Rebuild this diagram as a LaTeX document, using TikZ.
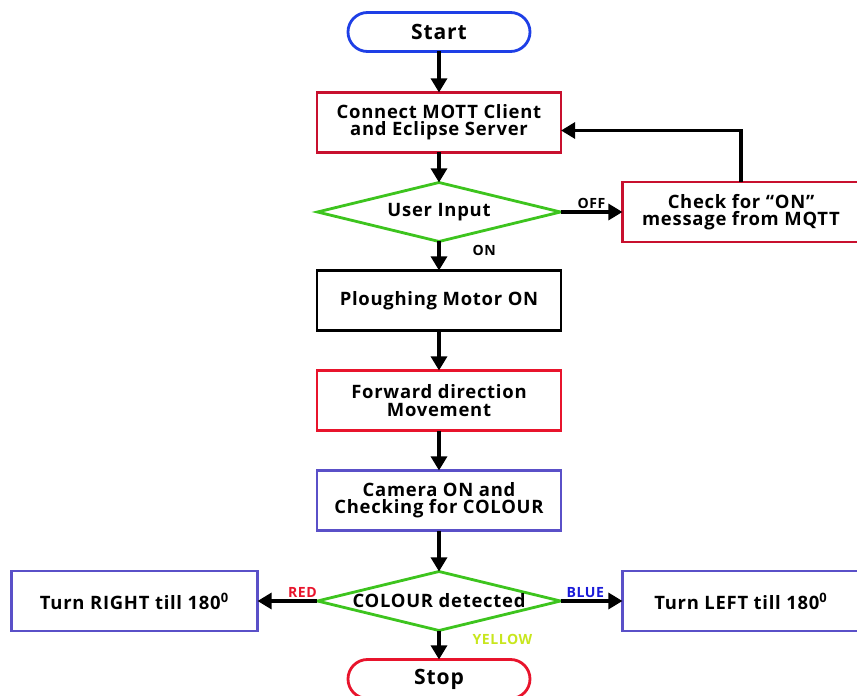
\documentclass[tikz,border=0pt]{standalone}
\usepackage{fontspec}
\setmainfont{Open Sans}[LetterSpace=4]
\usepackage{tikz}
\usetikzlibrary{shapes.geometric, arrows.meta, positioning}
\definecolor{termblue}{HTML}{1E3FE6}
\definecolor{boxred}{HTML}{C8102E}
\definecolor{brightred}{HTML}{E8142C}
\definecolor{boxpurple}{HTML}{5A50C8}
\definecolor{decgreen}{HTML}{3DC41E}
\definecolor{yellowtag}{HTML}{C8E61E}
\definecolor{bluetag}{HTML}{1A1AD8}

\begin{document}
\begin{tikzpicture}[
    font=\fontsize{10.5}{9.8}\selectfont\bfseries,
    every node/.style={outer sep=0pt},
    terminal/.style={rectangle, rounded corners=0.39cm, draw, line width=1.6pt, minimum height=0.78cm, minimum width=3.64cm, align=center, font=\fontsize{12}{12}\selectfont\bfseries},
    block/.style={rectangle, draw, line width=1.6pt, minimum height=1.2cm, minimum width=4.88cm, align=center},
    decision/.style={diamond, draw=decgreen, line width=1.6pt, aspect=4.2, inner sep=0pt, minimum height=1.18cm, minimum width=4.86cm, align=center},
    arrow/.style={-{Triangle[length=8pt, width=9pt]}, line width=2pt, black},
    tag/.style={font=\fontsize{8}{8}\selectfont\bfseries, inner sep=2pt},
]
    \useasboundingbox (0,0) rectangle (17.14,-13.92);

    \node[terminal, draw=termblue] (start) at (8.78,-0.64) {Start};
    \node[block, draw=boxred, below=0.82cm of start] (connect) {Connect MOTT Client\\and Eclipse Server};
    \node[decision, below=0.6cm of connect] (user) {User Input};
    \node[block, draw=boxred, minimum width=4.74cm, right=1.24cm of user] (check) {Check for “ON”\\message from MQTT};
    \node[block, draw=black, below=0.58cm of user] (plough) {Ploughing Motor ON};
    \node[block, draw=brightred, below=0.8cm of plough] (forward) {Forward direction\\Movement};
    \node[block, draw=boxpurple, below=0.8cm of forward] (camera) {Camera ON and\\Checking for COLOUR};
    \node[decision, below=0.82cm of camera] (colour) {COLOUR detected};
    \node[block, draw=boxpurple, minimum width=4.92cm, left=1.2cm of colour] (right) {Turn RIGHT till 180\textsuperscript{0}};
    \node[block, draw=boxpurple, minimum width=4.74cm, right=1.24cm of colour] (left) {Turn LEFT till 180\textsuperscript{0}};
    \node[terminal, draw=brightred, below=0.58cm of colour] (stop) {Stop};

    \draw[arrow] (start) -- (connect);
    \draw[arrow] (connect) -- (user);
    \draw[arrow] (user) -- node[above, tag] {OFF} (check);
    \draw[arrow] (check.north) |- ([yshift=-0.16cm]connect.east);
    \draw[arrow] (user) -- node[pos=0.3, right=0.6cm, tag] {ON} (plough);
    \draw[arrow] (plough) -- (forward);
    \draw[arrow] (forward) -- (camera);
    \draw[arrow] (camera) -- (colour);
    \draw[arrow] (colour) -- node[pos=0.25, above, tag, text=brightred] {RED} (right);
    \draw[arrow] (colour) -- node[pos=0.4, above, tag, text=bluetag] {BLUE} (left);
    \draw[arrow] (colour) -- node[pos=0.3, right=0.6cm, tag, text=yellowtag] {YELLOW} (stop);
\end{tikzpicture}
\end{document}
